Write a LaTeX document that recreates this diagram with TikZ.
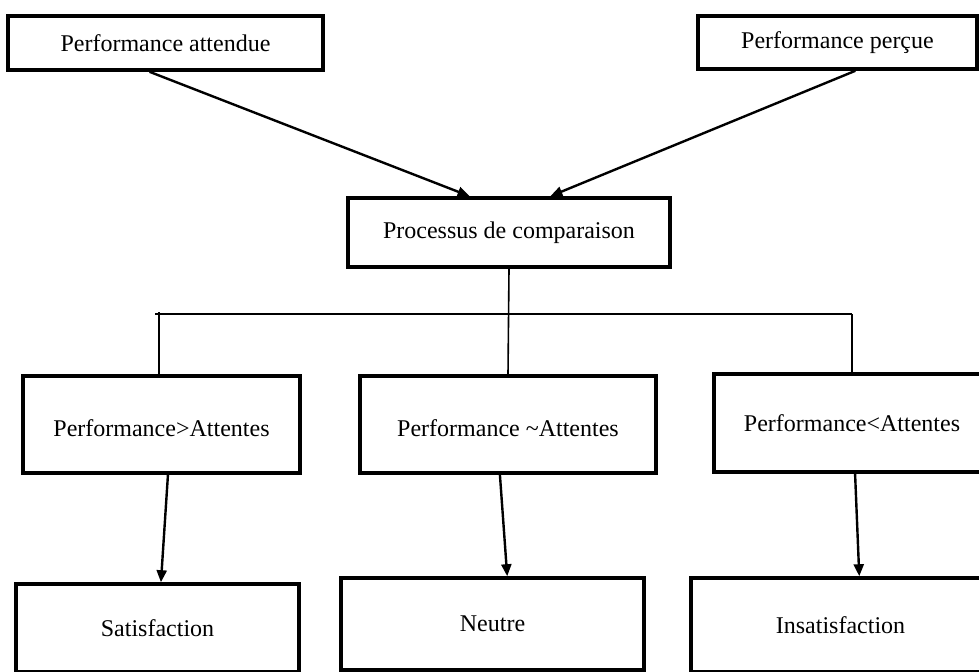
\documentclass[tikz,border=0pt]{standalone}
\usepackage{fontspec}
\setmainfont{Liberation Serif}
\usetikzlibrary{arrows.meta,calc}

\begin{document}
\begin{tikzpicture}[x=0.5pt,y=-0.5pt,
	box/.style={draw, line width=1.8pt, rectangle, font=\fontsize{12}{14}\selectfont},
	fleche/.style={line width=1.2pt, -{Triangle[length=6pt,width=5pt]}},
	branche/.style={line width=0.8pt}]
	\clip (0,0) rectangle (979,671);
	\node[box, minimum width=157.5pt, minimum height=27pt] (attendue) at (165.5,43) {Performance attendue};
	\node[box, minimum width=139.5pt, minimum height=26.5pt] (percue) at (837.5,42.5) {Performance perçue};
	\node[box, minimum width=161pt, minimum height=34.5pt] (comp) at (509,232.5) {Processus de comparaison};
	
	\node[box, minimum width=138.5pt, minimum height=48.5pt, text height=12pt] (sup) at (161.5,424.5) {Performance>Attentes};
	\node[box, minimum width=148pt, minimum height=48.5pt, text height=12pt] (egal) at (508,424.5) {Performance \textasciitilde Attentes};
	\node[box, minimum width=138pt, minimum height=49pt] (inf) at (852,423) {Performance<Attentes};
	
	\node[box, minimum width=141.5pt, minimum height=44pt] (satis) at (157.5,628) {Satisfaction};
	\node[box, minimum width=151.5pt, minimum height=46pt] (neutre) at (492.5,624) {Neutre};
	\node[box, minimum width=149.5pt, minimum height=47pt] (insatis) at (840.5,625) {Insatisfaction};
	
	\draw[fleche] ($(attendue.south west)!0.45!(attendue.south east)$) -- ($(comp.north west)!0.379!(comp.north east)$);
	\draw[fleche] ($(percue.south west)!0.563!(percue.south east)$) -- ($(comp.north west)!0.627!(comp.north east)$);
	
	\coordinate (gauche) at (155,314);
	\coordinate (droite) at (852,314);
	\draw[branche] (gauche) -- (droite);
	\draw[branche] (comp.south) -- (egal.north);
	\draw[branche] ($(sup.north west)!0.491!(sup.north east)$) -- ++(0,-62);
	\draw[branche] (inf.north) -- (inf.north |- droite);
	
	\draw[fleche] ($(sup.south west)!0.523!(sup.south east)$) -- ($(satis.north west)!0.512!(satis.north east)$);
	\draw[fleche] ($(egal.south west)!0.473!(egal.south east)$) -- ($(neutre.north west)!0.548!(neutre.north east)$);
	\draw[fleche] ($(inf.south west)!0.511!(inf.south east)$) -- ($(insatis.north west)!0.562!(insatis.north east)$);
	%\draw[branche] (comp.south) -- (comp.south |- gauche);
\end{tikzpicture}
\end{document}
